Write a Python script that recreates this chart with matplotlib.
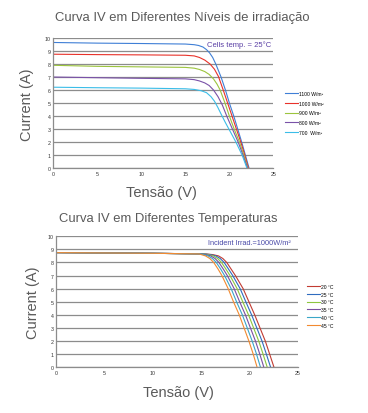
import matplotlib
matplotlib.use("Agg")
import matplotlib.pyplot as plt

plt.rcParams["font.family"] = ["Liberation Sans", "DejaVu Sans"]

# --- top chart: irradiance levels (25 C) ---
irr_labels = ["1100 W/m²", "1000 W/m²", "900 W/m²", "800 W/m²", "700  W/m²"]
irr_colors = ["#3f7fd6", "#e8322a", "#9cc43e", "#7a52a8", "#3bbde8"]
irr_volt = [
    [0, 5, 10, 15, 16, 16.5, 17.0, 17.4, 17.75, 18.1, 18.45, 19.05, 19.55, 20.0, 20.5, 20.95, 21.4, 21.82, 22.24],
    [0, 5, 10, 15, 16, 16.6, 17.2, 17.8, 18.3, 18.75, 19.3, 19.8, 20.3, 20.8, 21.3, 21.75, 22.17],
    [0, 5, 10, 15, 16, 16.6, 17.2, 17.7, 18.2, 18.6, 18.95, 19.5, 20.0, 20.55, 21.15, 21.65, 22.1],
    [0, 5, 10, 15, 16, 16.6, 17.2, 17.7, 18.2, 18.7, 19.2, 19.7, 20.35, 21.0, 21.55, 22.07],
    [0, 5, 10, 15, 16, 16.8, 17.4, 17.9, 18.3, 18.7, 19.1, 19.55, 19.95, 20.75, 21.45, 22.0],
]
irr_curr = [
    [9.65, 9.6, 9.57, 9.53, 9.48, 9.42, 9.3, 9.1, 8.85, 8.5, 8.0, 7.0, 6.0, 5.0, 4.0, 3.0, 2.0, 1.0, 0],
    [8.75, 8.72, 8.7, 8.67, 8.62, 8.5, 8.3, 8.0, 7.6, 7.05, 6.0, 5.0, 4.0, 3.0, 2.0, 1.0, 0],
    [7.9, 7.82, 7.78, 7.74, 7.68, 7.58, 7.42, 7.2, 6.85, 6.45, 6.0, 5.0, 4.0, 3.0, 2.0, 1.0, 0],
    [7.0, 6.95, 6.9, 6.86, 6.8, 6.7, 6.55, 6.35, 6.0, 5.5, 4.85, 4.0, 3.0, 2.0, 1.0, 0],
    [6.22, 6.18, 6.15, 6.1, 6.05, 5.95, 5.8, 5.5, 5.15, 4.65, 4.1, 3.5, 3.0, 2.0, 1.0, 0],
]

# --- bottom chart: temperatures (1000 W/m2) ---
temp_labels = ["20 °C", "25 °C", "30 °C", "35 °C", "40 °C", "45 °C"]
temp_colors = ["#c23b32", "#2f6cbf", "#8dc63f", "#7a4fa0", "#3aa6c8", "#f28a30"]
temp_curr = [8.75, 8.7, 8.65, 8.6, 8.5, 8.3, 8.0, 7.5, 7.0, 6.0, 5.0, 4.0, 3.0, 2.0, 1.0, 0.0]
temp_volt = [
    [0, 10, 15.5, 16.2, 16.8, 17.25, 17.65, 18.1, 18.55, 19.35, 19.95, 20.55, 21.1, 21.65, 22.1, 22.55],
    [0, 10, 15.36, 15.96, 16.53, 16.98, 17.38, 17.83, 18.27, 19.04, 19.63, 20.23, 20.77, 21.31, 21.76, 22.2],
    [0, 10, 15.22, 15.72, 16.26, 16.71, 17.11, 17.56, 17.99, 18.73, 19.31, 19.91, 20.44, 20.97, 21.42, 21.85],
    [0, 10, 15.08, 15.48, 15.99, 16.44, 16.84, 17.29, 17.71, 18.42, 18.99, 19.59, 20.11, 20.63, 21.08, 21.5],
    [0, 10, 14.94, 15.24, 15.72, 16.17, 16.57, 17.02, 17.43, 18.11, 18.67, 19.27, 19.78, 20.29, 20.74, 21.15],
    [0, 10, 14.8, 15.0, 15.45, 15.9, 16.3, 16.75, 17.15, 17.8, 18.35, 18.95, 19.45, 19.95, 20.4, 20.8],
]

x_ticks = [0, 5, 10, 15, 20, 25]
y_ticks = list(range(0, 11))

title_col = "#5a5a5a"


def style_axes(ax):
    ax.set_xlim(0, 25)
    ax.set_ylim(0, 10)
    ax.set_xticks(x_ticks)
    ax.set_yticks(y_ticks)
    ax.tick_params(labelsize=3.8, length=0, pad=2, colors="#333333")
    ax.yaxis.grid(True, color="#8c8c8c", lw=0.9)
    ax.set_axisbelow(True)
    for side in ["top", "right"]:
        ax.spines[side].set_visible(False)
    for side in ["left", "bottom"]:
        ax.spines[side].set_color("#8c8c8c")
        ax.spines[side].set_linewidth(0.9)


fig = plt.figure(figsize=(3.68, 4.14), dpi=100)

ax1 = fig.add_axes([0.145, 0.591, 0.598, 0.315])
style_axes(ax1)
for v, i, c, lab in zip(irr_volt, irr_curr, irr_colors, irr_labels):
    ax1.plot(v, i, color=c, lw=0.8, label=lab)
ax1.text(0.845, 0.954, "Cells temp. = 25°C", transform=ax1.transAxes, fontsize=5.5,
         color="#5a3fa5", ha="center", va="center")
ax1.legend(loc="upper left", bbox_to_anchor=(0.77, 0.783), bbox_transform=fig.transFigure,
           frameon=False, fontsize=3.6, handlelength=2.6, handletextpad=0.1,
           labelspacing=0.95, borderaxespad=0)

ax2 = fig.add_axes([0.153, 0.110, 0.656, 0.317])
style_axes(ax2)
for v, c, lab in zip(temp_volt, temp_colors, temp_labels):
    ax2.plot(v, temp_curr, color=c, lw=0.8, label=lab)
ax2.text(0.80, 0.952, "Incident Irrad.=1000W/m²", transform=ax2.transAxes, fontsize=5.3,
         color="#4a4aa8", ha="center", va="center")
ax2.legend(loc="upper left", bbox_to_anchor=(0.83, 0.317), bbox_transform=fig.transFigure,
           frameon=False, fontsize=3.6, handlelength=2.6, handletextpad=0.2,
           labelspacing=0.55, borderaxespad=0)

fig.text(0.496, 0.957, "Curva IV em Diferentes Níveis de irradiação", ha="center", va="center",
         fontsize=9.4, color=title_col)
fig.text(0.456, 0.471, "Curva IV em Diferentes Temperaturas", ha="center", va="center",
         fontsize=9.4, color=title_col)
fig.text(0.439, 0.535, "Tensão (V)", ha="center", va="center", fontsize=10.5, color=title_col)
fig.text(0.486, 0.051, "Tensão (V)", ha="center", va="center", fontsize=10.5, color=title_col)
fig.text(0.073, 0.746, "Current (A)", ha="center", va="center", rotation=90,
         fontsize=10.5, color=title_col)
fig.text(0.090, 0.268, "Current (A)", ha="center", va="center", rotation=90,
         fontsize=10.5, color=title_col)

fig.savefig("out.png", dpi=100)
